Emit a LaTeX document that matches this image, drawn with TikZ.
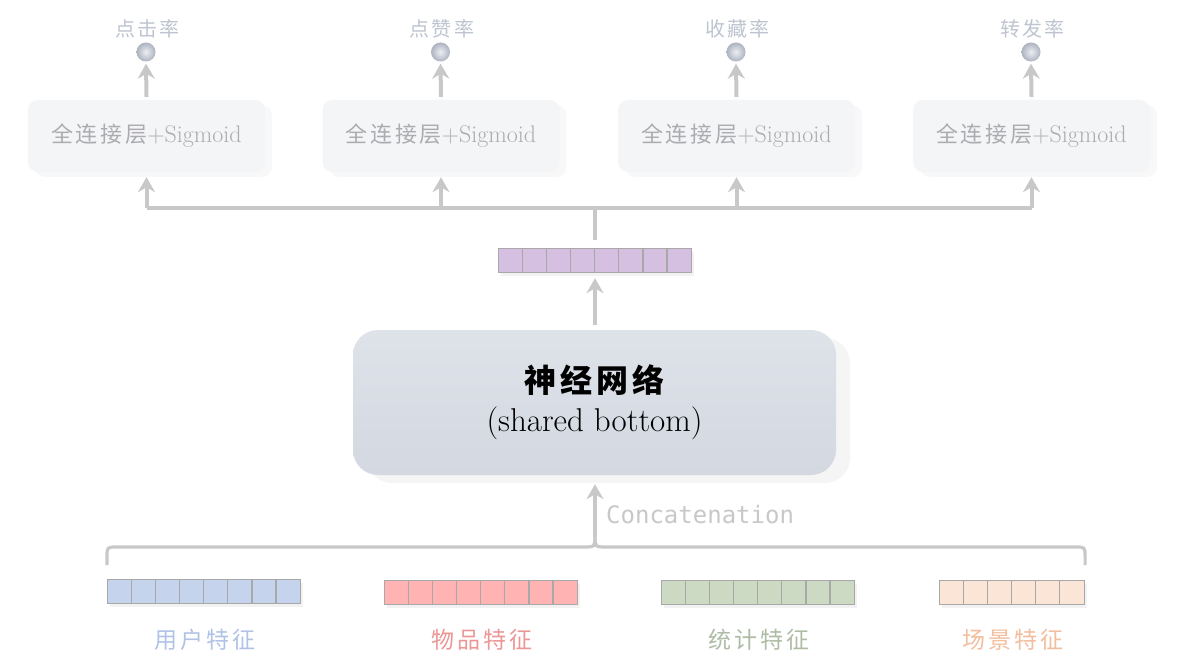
\documentclass[tikz,border=0pt]{standalone}
\usepackage{fontspec}
\newfontfamily\cjk{Noto Sans CJK SC}
\newfontfamily\cjksp[LetterSpace=12]{Noto Sans CJK SC}
\newfontfamily\monofam{DejaVu Sans Mono}
\usetikzlibrary{arrows.meta,shadows}
\definecolor{arrowgray}{RGB}{200,200,200}
\definecolor{toptext}{RGB}{190,196,208}
\definecolor{fctext}{RGB}{172,172,176}
\definecolor{fcfill}{RGB}{244,245,247}
\definecolor{maintop}{RGB}{222,226,233}
\definecolor{mainbot}{RGB}{211,216,225}
\definecolor{cellborder}{RGB}{168,168,168}
\definecolor{cpurple}{RGB}{213,192,226}
\definecolor{cblue}{RGB}{197,211,236}
\definecolor{cred}{RGB}{255,179,179}
\definecolor{cgreen}{RGB}{204,217,195}
\definecolor{cpeach}{RGB}{250,229,214}
\definecolor{tblue}{RGB}{176,194,230}
\definecolor{tred}{RGB}{236,150,150}
\definecolor{tgreen}{RGB}{174,188,166}
\definecolor{tpeach}{RGB}{242,190,158}
\definecolor{ballout}{RGB}{172,179,192}
\definecolor{ballin}{RGB}{236,238,242}
\tikzset{
  conn/.style={draw=arrowgray, line width=4pt, -{Stealth[length=15pt,width=17pt,inset=5pt]}},
  busline/.style={draw=arrowgray, line width=4pt},
  braceline/.style={draw=arrowgray, line width=3.2pt},
  fcbox/.style={rounded corners=10pt, fill=fcfill, minimum width=237pt, minimum height=72pt,
    text=fctext, font=\fontsize{24}{28}\selectfont, inner sep=0pt,
    drop shadow={opacity=.05, shadow xshift=7pt, shadow yshift=-5pt}},
  ballnode/.style={circle, minimum size=19pt, inner sep=0pt, shading=radial, inner color=ballin, outer color=ballout},
  toplbl/.style={text=toptext, font=\cjksp\fontsize{20}{22}\selectfont, inner sep=0pt},
  vecbox/.style={draw=cellborder, line width=1.2pt, inner sep=0pt, minimum height=24pt, anchor=north west,
    drop shadow={opacity=.1, shadow xshift=2pt, shadow yshift=-3pt}},
  cellline/.style={draw=cellborder, line width=1.2pt},
  botlbl/.style={font=\cjksp\fontsize{23}{26}\selectfont, inner sep=0pt},
  mainbox/.style={rounded corners=25pt, top color=maintop, bottom color=mainbot, draw=none,
    minimum width=483pt, minimum height=145pt, align=center,
    drop shadow={opacity=.08, shadow xshift=14pt, shadow yshift=-8pt}}
}
\newcommand{\featvec}[6]{%
  \node[vecbox, fill=#5, minimum width=#4*24.15pt] (#1) at (#2,#3) {};
  \foreach \i in {1,...,#6} \draw[cellline] ([xshift=\i*24.15pt]#1.north west) -- ([xshift=\i*24.15pt]#1.south west);
}
\begin{document}
\begin{tikzpicture}[x=1pt,y=-1pt]
\useasboundingbox[fill=white] (0,0) rectangle (1184,655);
% output heads
\foreach \k/\cx/\txt in {1/146.5/点击率, 2/441/点赞率, 3/736.5/收藏率, 4/1031.5/转发率}{
  \node[fcbox] (fc\k) at (\cx,136) {{\cjksp\fontsize{22}{26}\selectfont 全连接层}+Sigmoid};
  \node[ballnode] (b\k) at (\cx-0.5,52) {};
  \node[toplbl] (t\k) at (\cx+1,29) {\txt};
  \draw[conn] ([yshift=3pt]fc\k.north) -- ([yshift=-2pt]b\k.south);
}
% shared vector
\featvec{vp}{498}{248}{8}{cpurple}{7}
\coordinate (bus) at (595,208);
\foreach \k in {1,...,4}{ \coordinate (j\k) at (fc\k.south |- bus); }
\draw[busline] (j1) -- (j4);
\draw[busline] ([yshift=8pt]vp.north -| bus) -- (bus);
\foreach \k in {1,...,4}{ \draw[conn] (j\k) -- ([yshift=-5pt]fc\k.south); }
% main network
\node[mainbox] (main) at (594.5,402.5) {{\cjk\bfseries\addfontfeature{LetterSpace=12}\fontsize{32}{38}\selectfont 神经网络}\\[10pt]{\fontsize{33}{38}\selectfont (shared bottom)}};
\draw[conn] ([yshift=5pt]main.north -| bus) -- ([yshift=-5pt]vp.south -| bus);
% features
\featvec{vu}{107}{579}{8}{cblue}{7}
\featvec{vi}{384}{580}{8}{cred}{7}
\featvec{vs}{661}{580}{8}{cgreen}{7}
\featvec{vc}{939}{580}{6}{cpeach}{5}
\node[botlbl, text=tblue] (lu) at (205,640) {用户特征};
\node[botlbl, text=tred] (li) at (482,640) {物品特征};
\node[botlbl, text=tgreen] (ls) at (759,640) {统计特征};
\node[botlbl, text=tpeach] (lc) at (1013,640) {场景特征};
% brace
\coordinate (tip) at (595,536);
\coordinate (bl) at ([yshift=14pt]vu.north west);
\coordinate (br) at ([yshift=15pt]vc.north east);
\draw[braceline] (bl) -- ++(0,-8) .. controls +(0,-10) .. ++(10,-10) -- (583,547) .. controls (595,547) .. (tip);
\draw[braceline] (br) -- ++(0,-8) .. controls +(0,-10) .. ++(-10,-10) -- (607,547) .. controls (595,547) .. (tip);
\draw[conn, line width=3.5pt] (tip) -- ([yshift=-9pt]main.south -| tip);
\node[anchor=west, text=arrowgray, font=\monofam\fontsize{24}{27}\selectfont, inner sep=0pt] (concat) at (606,515) {Concatenation};
\end{tikzpicture}
\end{document}
